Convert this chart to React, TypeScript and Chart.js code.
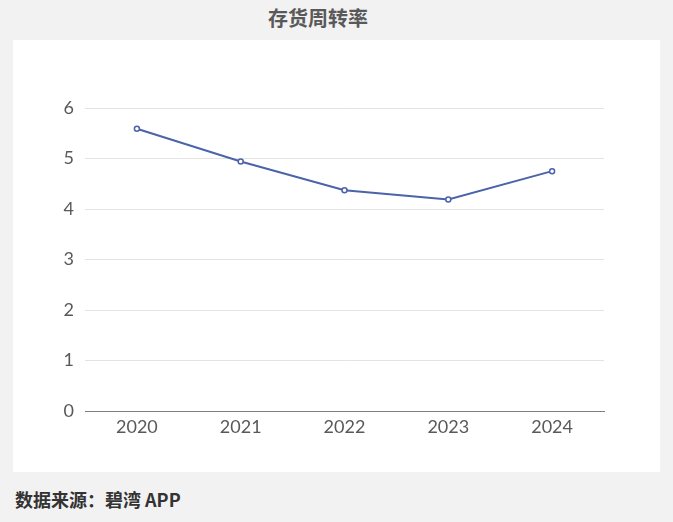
import React, { useEffect, useRef } from "react";
import { Chart, registerables } from "chart.js";

Chart.register(...registerables);

const title = "存货周转率";
const source = "数据来源：碧湾 APP";
const years = ["2020", "2021", "2022", "2023", "2024"];
const turnover = [5.59, 4.94, 4.37, 4.19, 4.75];
const yTicks = [0, 1, 2, 3, 4, 5, 6];

const FONT = "Lato, 'Noto Sans CJK SC', sans-serif";

export default function App() {
  const ref = useRef<HTMLCanvasElement | null>(null);

  useEffect(() => {
    document.body.style.margin = "0";
    if (!ref.current) return;
    const chart = new Chart(ref.current, {
      type: "line",
      data: {
        labels: years,
        datasets: [
          {
            data: turnover,
            borderColor: "#4a63a9",
            backgroundColor: "#ffffff",
            borderWidth: 2,
            pointRadius: 2.5,
            pointBorderWidth: 1.5,
            pointBackgroundColor: "#ffffff",
            pointBorderColor: "#4a63a9",
            tension: 0,
          },
        ],
      },
      options: {
        animation: false,
        responsive: false,
        maintainAspectRatio: false,
        layout: { padding: { left: 0, right: 56, top: 68, bottom: 0 } },
        plugins: {
          legend: { display: false },
          tooltip: { enabled: false },
          title: { display: false },
        },
        scales: {
          x: {
            offset: true,
            grid: { display: false, drawTicks: false },
            border: { display: true, color: "#7f7f7f", width: 1 },
            ticks: {
              color: "#595959",
              font: { family: FONT, size: 18 },
              padding: 5,
            },
            afterFit: (s: any) => {
              s.height = 61;
            },
          },
          y: {
            min: 0,
            max: 6,
            afterBuildTicks: (s: any) => {
              s.ticks = yTicks.map((v) => ({ value: v }));
            },
            grid: { color: "#e3e3e3", drawTicks: false, lineWidth: 1 },
            border: { display: false },
            ticks: {
              color: "#595959",
              font: { family: FONT, size: 18 },
              padding: 11,
            },
            afterFit: (s: any) => {
              s.width = 72;
            },
          },
        },
      },
    });
    return () => chart.destroy();
  }, []);

  return (
    <div
      style={{
        position: "fixed",
        left: 0,
        top: 0,
        width: 673,
        height: 522,
        background: "#f2f2f2",
        overflow: "hidden",
      }}
    >
      <div
        style={{
          position: "absolute",
          left: 0,
          top: 5,
          width: 636,
          textAlign: "center",
          fontFamily: "'Noto Sans CJK SC', sans-serif",
          fontWeight: 700,
          fontSize: 20,
          color: "#595959",
          lineHeight: "26px",
        }}
      >
        {title}
      </div>
      <div
        style={{
          position: "absolute",
          left: 13,
          top: 40,
          width: 647,
          height: 432,
          background: "#ffffff",
        }}
      >
        <canvas ref={ref} width={647} height={432} style={{ display: "block" }} />
      </div>
      <div
        style={{
          position: "absolute",
          left: 15,
          top: 487,
          fontFamily: "'Noto Sans CJK SC', sans-serif",
          fontWeight: 700,
          fontSize: 18,
          color: "#333333",
          lineHeight: "24px",
        }}
      >
        {source}
      </div>
    </div>
  );
}
